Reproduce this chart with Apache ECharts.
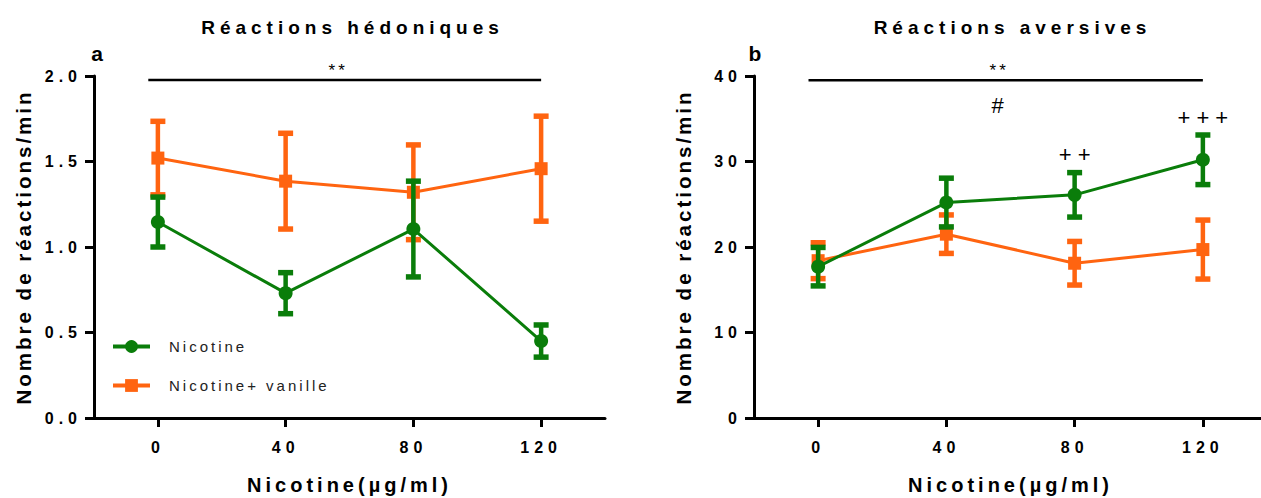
<!DOCTYPE html>
<html>
<head>
<meta charset="utf-8">
<script src="https://cdn.jsdelivr.net/npm/echarts@6/dist/echarts.min.js"></script>
<style>
html,body{margin:0;padding:0;background:#fff;}
#c{width:1261px;height:498px;}
#c text{letter-spacing:5px;}
#c text[style*="19px"]{letter-spacing:5px;}
#c text[style*="20px"]{letter-spacing:4px;}
#c text[style*="20.5px"]{letter-spacing:3px;}
#c text[style*="16px"]{letter-spacing:5px;}
#c text[style*="15px"]{letter-spacing:3px;}
#c text[style*="17px"]{letter-spacing:3px;}
#c text[style*="22px"]{letter-spacing:6px;}
#c text[style*="21px"]{letter-spacing:0;}
</style>
</head>
<body>
<div id="c"></div>
<script>
// ---- data ----
const doses = [0, 40, 80, 120];
const xTicks = [0, 40, 80, 120];
const seriesNames = ['Nicotine', 'Nicotine+ vanille'];
const panelTitles = ['Réactions hédoniques', 'Réactions aversives'];
const panelLetters = ['a', 'b'];
const xAxisName = 'Nicotine(µg/ml)';
const yAxisName = 'Nombre de réactions/min';

const hedNicotine = [1.146, 0.73, 1.105, 0.45];
const hedNicotineSem = [0.146, 0.12, 0.28, 0.094];
const hedVanille = [1.52, 1.385, 1.32, 1.458];
const hedVanilleSem = [0.215, 0.28, 0.277, 0.307];

const avNicotine = [17.7, 25.2, 26.1, 30.2];
const avNicotineSem = [2.25, 2.85, 2.6, 2.9];
const avVanille = [18.4, 21.5, 18.1, 19.7];
const avVanilleSem = [2.1, 2.25, 2.55, 3.45];

const hedSigBar = [[-3, 1.977], [120, 1.977]];
const avSigBar = [[-3, 39.5], [120, 39.5]];
const hedMarkPos = [[56, 2.03]];
const hedMarkText = ['**'];
const avMarkPos = [[56, 40.6], [56, 36.6], [80, 30.8], [120, 35.1]];
const avMarkText = ['**', '#', '++', '+++'];

// ---- styles ----
const GREEN = '#0a7d0a';
const ORANGE = '#ff6410';
const FONT = '"Liberation Sans", Arial, sans-serif';

function xAxisCfg(gi) {
  return {
    type: 'value', gridIndex: gi, min: -20, max: 140,
    name: xAxisName, nameLocation: 'middle', nameGap: 57,
    nameTextStyle: {fontSize: 20, fontWeight: 'bold', color: '#000', fontFamily: FONT},
    axisLine: {show: true, onZero: false, lineStyle: {color: '#000', width: 3}},
    axisTick: {show: true, customValues: xTicks, length: 9, lineStyle: {color: '#000', width: 3}},
    axisLabel: {show: true, customValues: xTicks, margin: 21, fontSize: 16, fontWeight: 'bold', color: '#000', fontFamily: FONT},
    splitLine: {show: false}
  };
}
function yAxisCfg(gi, max, interval, fmt) {
  return {
    type: 'value', gridIndex: gi, min: 0, max: max, interval: interval,
    name: yAxisName, nameLocation: 'middle', nameGap: 60,
    nameTextStyle: {fontSize: 20.5, fontWeight: 'bold', color: '#000', fontFamily: FONT},
    axisLine: {show: true, onZero: false, lineStyle: {color: '#000', width: 3}},
    axisTick: {show: true, length: 9, lineStyle: {color: '#000', width: 3}},
    axisLabel: {show: true, margin: 12, formatter: fmt, fontSize: 16, fontWeight: 'bold', color: '#000', fontFamily: FONT},
    splitLine: {show: false}
  };
}
function lineSeries(name, gi, vals, color, symbol, size, z) {
  return {
    type: 'line', name: name, xAxisIndex: gi, yAxisIndex: gi,
    data: doses.map((d, i) => [d, vals[i]]),
    symbol: symbol, symbolSize: size, showSymbol: true,
    lineStyle: {color: color, width: 3}, itemStyle: {color: color},
    z: z, silent: true, animation: false
  };
}
function errSeries(name, gi, vals, sems, color, z) {
  return {
    type: 'custom', name: name, xAxisIndex: gi, yAxisIndex: gi,
    data: doses.map((d, i) => [d, vals[i], sems[i]]),
    encode: {x: 0, y: 1},
    renderItem: function (params, api) {
      const x = api.value(0), m = api.value(1), s = api.value(2);
      const top = api.coord([x, m + s]);
      const bot = api.coord([x, m - s]);
      const hw = 7.5;
      return {
        type: 'group',
        children: [
          {type: 'line', shape: {x1: top[0], y1: top[1], x2: bot[0], y2: bot[1]}, style: {stroke: color, lineWidth: 4.5}},
          {type: 'line', shape: {x1: top[0] - hw, y1: top[1], x2: top[0] + hw, y2: top[1]}, style: {stroke: color, lineWidth: 5.5}},
          {type: 'line', shape: {x1: bot[0] - hw, y1: bot[1], x2: bot[0] + hw, y2: bot[1]}, style: {stroke: color, lineWidth: 5.5}}
        ]
      };
    },
    z: z, silent: true, animation: false
  };
}
function sigSeries(gi, pts) {
  return {
    type: 'line', name: 'sig' + gi, xAxisIndex: gi, yAxisIndex: gi,
    data: pts, symbol: 'none', lineStyle: {color: '#000', width: 2.5},
    z: 1, silent: true, animation: false
  };
}
function markSeries(gi, pos, texts) {
  return {
    type: 'custom', name: 'marks' + gi, xAxisIndex: gi, yAxisIndex: gi,
    data: pos, encode: {x: 0, y: 1},
    renderItem: function (params, api) {
      const p = api.coord([api.value(0), api.value(1)]);
      const t = texts[params.dataIndex];
      const size = t === '**' ? 17 : 22;
      const shift = t === '**' ? 1.5 : 3;
      return {
        type: 'text', x: p[0] + shift, y: p[1],
        style: {text: t, font: 'normal ' + size + 'px "Liberation Sans", Arial, sans-serif',
                align: 'center', verticalAlign: 'middle', fill: '#000'}
      };
    },
    z: 6, silent: true, animation: false
  };
}
function gText(txt, x, y, size) {
  return {type: 'text', x: x, y: y, silent: true,
    style: {text: txt, font: 'bold ' + size + 'px "Liberation Sans", Arial, sans-serif',
            align: 'center', verticalAlign: 'middle', fill: '#000'}};
}

const chart = echarts.init(document.getElementById('c'), null, {renderer: 'svg'});
chart.setOption({
  animation: false,
  backgroundColor: '#fff',
  grid: [
    {left: 94, top: 76, width: 511, height: 342, outerBoundsMode: 'none', containLabel: false},
    {left: 754, top: 76, width: 513, height: 342, outerBoundsMode: 'none', containLabel: false}
  ],
  xAxis: [xAxisCfg(0), xAxisCfg(1)],
  yAxis: [
    yAxisCfg(0, 2, 0.5, v => v.toFixed(1)),
    yAxisCfg(1, 40, 10, v => String(v))
  ],
  legend: {
    data: seriesNames, orient: 'vertical', left: 111, top: 339, padding: 0,
    itemGap: 24, itemWidth: 37, itemHeight: 16, selectedMode: false,
    lineStyle: {width: 4},
    textStyle: {fontSize: 15, color: '#222', fontFamily: FONT, padding: [0, 0, 0, 14]}
  },
  graphic: [
    gText(panelTitles[0], 352.5, 27, 19),
    gText(panelTitles[1], 1012.5, 27, 19),
    gText(panelLetters[0], 97, 53, 21),
    gText(panelLetters[1], 755, 53, 21)
  ],
  series: [
    lineSeries(seriesNames[0], 0, hedNicotine, GREEN, 'circle', 14, 5),
    lineSeries(seriesNames[1], 0, hedVanille, ORANGE, 'rect', 13, 3),
    lineSeries(seriesNames[0], 1, avNicotine, GREEN, 'circle', 14, 5),
    lineSeries(seriesNames[1], 1, avVanille, ORANGE, 'rect', 13, 3),
    errSeries(seriesNames[1], 0, hedVanille, hedVanilleSem, ORANGE, 2),
    errSeries(seriesNames[0], 0, hedNicotine, hedNicotineSem, GREEN, 4),
    errSeries(seriesNames[1], 1, avVanille, avVanilleSem, ORANGE, 2),
    errSeries(seriesNames[0], 1, avNicotine, avNicotineSem, GREEN, 4),
    sigSeries(0, hedSigBar),
    sigSeries(1, avSigBar),
    markSeries(0, hedMarkPos, hedMarkText),
    markSeries(1, avMarkPos, avMarkText)
  ]
});
</script>
</body>
</html>
